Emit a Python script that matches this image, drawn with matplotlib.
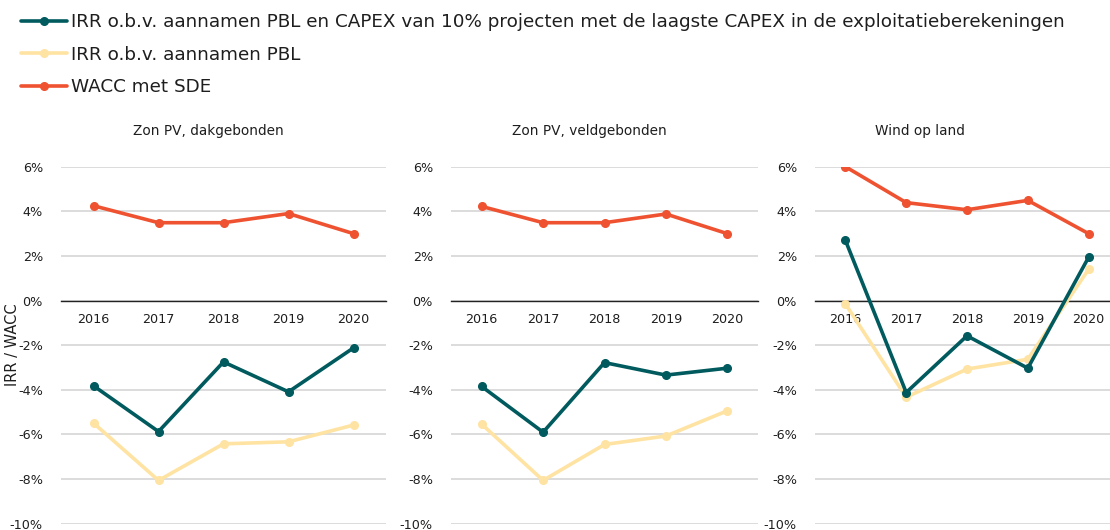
import matplotlib
matplotlib.use("Agg")
import matplotlib.pyplot as plt
from matplotlib.ticker import FuncFormatter

years = ["2016", "2017", "2018", "2019", "2020"]
panel_titles = ["Zon PV, dakgebonden", "Zon PV, veldgebonden", "Wind op land"]

series_labels = [
    "IRR o.b.v. aannamen PBL en CAPEX van 10% projecten met de laagste CAPEX in de exploitatieberekeningen",
    "IRR o.b.v. aannamen PBL",
    "WACC met SDE",
]

# values in percent, one list per panel
irr_capex10 = [
    [-3.82, -5.87, -2.75, -4.09, -2.12],
    [-3.85, -5.90, -2.78, -3.34, -3.03],
    [2.70, -4.12, -1.58, -3.03, 1.94],
]
irr_pbl = [
    [-5.49, -8.06, -6.42, -6.33, -5.58],
    [-5.54, -8.06, -6.45, -6.07, -4.94],
    [-0.15, -4.33, -3.07, -2.63, 1.40],
]
wacc_sde = [
    [4.25, 3.49, 3.49, 3.90, 3.00],
    [4.22, 3.49, 3.49, 3.88, 3.00],
    [6.00, 4.39, 4.07, 4.49, 3.00],
]

yticks = [-10, -8, -6, -4, -2, 0, 2, 4, 6]

teal = "#005A5E"
sand = "#FFE3A3"
red = "#EF5230"
grid_col = "#D9D9D9"
text_col = "#1E1E1E"

W, H = 1110, 530
fig = plt.figure(figsize=(W / 100, H / 100), dpi=100)
plt.rcParams["font.family"] = ["DejaVu Sans"]

# axes boxes in pixels: (left, right)
boxes = [(61, 386), (451, 758), (815, 1119)]
top_px, bot_px = 166.7, 523.7
title_x = [208, 589, 920]

handles = []
for k, (l, r) in enumerate(boxes):
    ax = fig.add_axes([l / W, 1 - bot_px / H, (r - l) / W, (bot_px - top_px) / H])
    x = list(range(len(years)))
    h1, = ax.plot(x, irr_capex10[k], color=teal, lw=2.6, marker="o", ms=5.5, zorder=4,
                  solid_capstyle="round")
    h2, = ax.plot(x, irr_pbl[k], color=sand, lw=2.6, marker="o", ms=5.5, zorder=3,
                  solid_capstyle="round")
    h3, = ax.plot(x, wacc_sde[k], color=red, lw=2.6, marker="o", ms=5.5, zorder=3,
                  solid_capstyle="round")
    if k == 0:
        handles = [h1, h2, h3]
    ax.set_xlim(-0.5, len(years) - 0.5)
    ax.set_ylim(-10, 6)
    ax.set_yticks(yticks)
    ax.yaxis.set_major_formatter(FuncFormatter(lambda v, p: f"{v:.0f}%"))
    ax.set_xticks(x)
    ax.set_xticklabels(years)
    for s in ["top", "right", "left"]:
        ax.spines[s].set_visible(False)
    ax.spines["bottom"].set_position(("data", 0))
    ax.spines["bottom"].set_color("#222222")
    ax.spines["bottom"].set_linewidth(1.0)
    ax.spines["bottom"].set_zorder(2)
    ax.tick_params(axis="both", length=0, labelsize=9.2, colors=text_col)
    ax.tick_params(axis="y", pad=13)
    ax.tick_params(axis="x", pad=9)
    ax.set_axisbelow(True)
    ax.grid(axis="y", color=grid_col, lw=1.3)
    ax.patch.set_visible(False)
    fig.text(title_x[k] / W, 1 - 131 / H, panel_titles[k], ha="center", va="center",
             fontsize=9.8, color=text_col)

fig.text(13 / W, 1 - 345 / H, "IRR / WACC", rotation=90, ha="center", va="center",
         fontsize=10.5, color=text_col)

fig.legend(handles, series_labels, loc="upper left", bbox_to_anchor=(14 / W, 1 - 6 / H),
           frameon=False, fontsize=13.2, handlelength=2.5, handletextpad=0.2,
           labelspacing=0.78, borderaxespad=0, labelcolor=text_col)

fig.savefig("out.png", dpi=100, facecolor="white")
